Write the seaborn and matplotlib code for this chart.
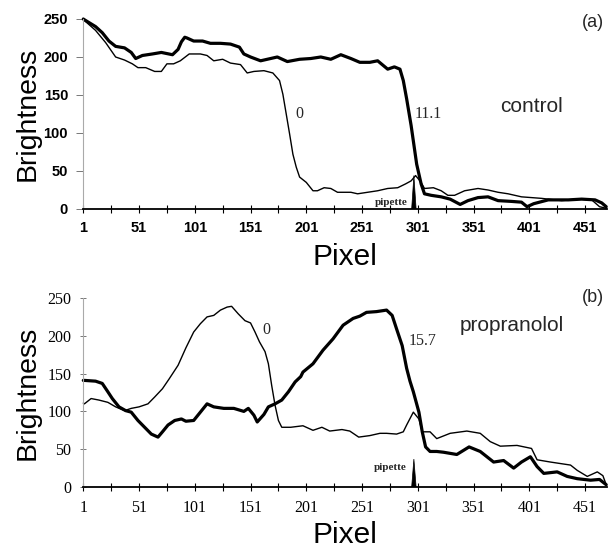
import pandas as pd
import seaborn as sns
import matplotlib.pyplot as plt

# Panel (a) : control, profils de luminosite
a_x_0 = [1, 2, 12, 21, 30, 38, 45, 50, 57, 65, 71, 76, 82, 88, 96, 106, 112, 118, 126, 133,
         142, 148, 154, 163, 171, 177, 180, 183, 186, 189, 192, 195, 201, 207, 211, 217, 223,
         229, 241, 247, 256, 265, 274, 283, 290, 295, 299, 303, 307, 315, 322, 328, 334, 343,
         355, 364, 373, 382, 394, 412, 430, 445, 457, 464, 470]
a_y_0 = [250, 248, 235, 219, 200, 196, 191, 186, 186, 181, 181, 191, 191, 195, 204, 204, 202,
         195, 197, 192, 190, 179, 181, 182, 179, 169, 151, 125, 99, 72, 55, 42, 35, 24, 24, 28,
         27, 22, 22, 20, 22, 24, 27, 28, 33, 37, 44, 37, 27, 28, 24, 18, 18, 24, 27, 25, 22,
         20, 16, 14, 11, 13, 12, 3, 1]
a_x_11 = [1, 2, 12, 18, 24, 30, 38, 44, 48, 54, 63, 71, 81, 86, 89, 92, 94, 100, 108, 115,
          124, 133, 141, 145, 151, 160, 166, 175, 184, 195, 205, 214, 223, 232, 241, 249, 258,
          265, 274, 280, 285, 288, 291, 295, 300, 304, 307, 313, 322, 330, 339, 346, 355, 364,
          373, 385, 394, 399, 405, 418, 436, 448, 460, 466, 470]
a_y_11 = [250, 249, 240, 232, 221, 214, 212, 206, 198, 202, 204, 206, 203, 210, 220, 226, 225,
          221, 221, 218, 218, 217, 213, 204, 200, 195, 197, 200, 194, 197, 198, 200, 197, 203,
          198, 193, 193, 195, 184, 187, 184, 169, 145, 110, 59, 33, 20, 18, 16, 13, 6, 11, 15,
          16, 11, 10, 9, 3, 7, 12, 12, 13, 12, 8, 3]

# Panel (b) : propranolol
b_x_0 = [1, 2, 8, 15, 23, 30, 38, 44, 51, 59, 65, 72, 78, 86, 93, 100, 106, 112, 118, 124,
         130, 134, 140, 146, 151, 155, 159, 164, 167, 170, 173, 176, 179, 187, 198, 207, 215,
         222, 233, 240, 248, 258, 267, 273, 282, 288, 291, 297, 302, 305, 312, 318, 330, 345,
         357, 366, 375, 390, 403, 408, 420, 438, 444, 453, 462, 467, 470]
b_y_0 = [111, 110, 117, 115, 112, 106, 101, 104, 106, 110, 119, 130, 143, 161, 184, 205, 216,
         225, 227, 234, 238, 239, 229, 220, 217, 205, 192, 179, 163, 134, 108, 88, 79, 79, 81,
         75, 79, 74, 76, 74, 66, 68, 71, 71, 70, 73, 82, 99, 90, 73, 73, 64, 71, 74, 71, 60,
         54, 55, 51, 36, 33, 29, 22, 14, 20, 15, 3]
b_x_15 = [1, 2, 12, 18, 23, 27, 33, 39, 44, 50, 56, 62, 68, 72, 77, 83, 89, 93, 100, 106, 112,
          118, 127, 136, 145, 149, 154, 157, 163, 167, 173, 179, 185, 191, 196, 198, 207, 216,
          225, 234, 243, 249, 255, 264, 273, 278, 282, 287, 291, 294, 297, 302, 305, 308, 312,
          318, 324, 336, 347, 357, 363, 369, 378, 387, 394, 402, 408, 414, 426, 435, 444, 456,
          464, 470]
b_y_15 = [141, 141, 140, 137, 126, 117, 106, 101, 99, 88, 79, 70, 66, 73, 82, 88, 90, 87, 88,
          99, 110, 106, 104, 104, 100, 104, 95, 86, 96, 106, 110, 115, 126, 139, 146, 152, 163,
          181, 196, 214, 223, 226, 231, 232, 234, 227, 209, 187, 157, 140, 126, 99, 73, 53, 47,
          47, 46, 43, 53, 47, 40, 33, 35, 25, 33, 40, 27, 18, 20, 14, 11, 9, 10, 3]

# Pipette (pic)
pipette_x = [295.5, 297.5, 299.5]
pipette_a = [0, 44, 0]
pipette_b = [0, 37, 0]

x_labels = [1, 51, 101, 151, 201, 251, 301, 351, 401, 451]
x_minor = [26, 76, 126, 176, 226, 276, 326, 376, 426]
y_ticks = [0, 50, 100, 150, 200, 250]

sns.set_theme(style='white')
plt.rcParams['font.family'] = ['Liberation Sans', 'DejaVu Sans']

fig = plt.figure(figsize=(6.16, 5.51), dpi=100)
W, H = 616, 551
ax_a = fig.add_axes([83.3 / W, 1 - 209 / H, 523.7 / W, 190 / H])
ax_b = fig.add_axes([83.3 / W, 1 - 487 / H, 523.7 / W, 189 / H])

panels = [
    (ax_a, a_x_0, a_y_0, a_x_11, a_y_11, pipette_a, 'Liberation Sans', 'bold', 10.5, 'out'),
    (ax_b, b_x_0, b_y_0, b_x_15, b_y_15, pipette_b, 'Liberation Serif', 'normal', 11.5, 'inout'),
]

for ax, x0, y0, x1, y1, pip, tfont, tweight, tsize, ydir in panels:
    sns.lineplot(x=x0, y=y0, ax=ax, color='black', linewidth=1.0, clip_on=False)
    sns.lineplot(x=x1, y=y1, ax=ax, color='black', linewidth=2.3, clip_on=False)
    ax.fill(pipette_x, pip, color='black', lw=0.5)

    ax.set_xlim(1, 470.7)
    ax.set_ylim(0, 250)
    ax.set_xticks(x_labels)
    ax.set_xticks(x_minor, minor=True)
    ax.set_yticks(y_ticks)
    ax.tick_params(axis='x', which='both', direction='inout', length=6, width=0.8,
                   color='black', bottom=True, pad=6)
    ax.tick_params(axis='y', direction=ydir, length=5, width=0.7, color='#777777',
                   left=True, pad=6)
    for lab in ax.get_xticklabels() + ax.get_yticklabels():
        lab.set_fontfamily(tfont)
        lab.set_fontweight(tweight)
        lab.set_fontsize(tsize)
        lab.set_color('black')

    for s in ['top', 'right']:
        ax.spines[s].set_visible(False)
    ax.spines['bottom'].set_color('black')
    ax.spines['bottom'].set_linewidth(1.3)
    ax.spines['left'].set_color('#aaaaaa')
    ax.spines['left'].set_linewidth(0.8)

    ax.set_ylabel('Brightness', fontsize=20.5, va='center', color='black')
    ax.yaxis.set_label_coords(-0.107, 0.5)
    ax.set_xlabel('Pixel', fontsize=21.5, va='center', color='black')
    ax.xaxis.set_label_coords(0.5, -0.255)

# Annotations panel (a)
ax_a.text(195, 125, '0', fontfamily='Liberation Serif', fontsize=11.5, ha='center', va='center')
ax_a.text(310, 125, '11.1', fontfamily='Liberation Serif', fontsize=11.5, ha='center', va='center')
ax_a.text(375, 135, 'control', fontsize=15, ha='left', va='center')
ax_a.text(448, 246, '(a)', fontsize=13, ha='left', va='center')
ax_a.text(277, 3, 'pipette', fontfamily='Liberation Serif', fontweight='bold', fontsize=8,
          ha='center', va='bottom')

# Annotations panel (b)
ax_b.text(165, 208, '0', fontfamily='Liberation Serif', fontsize=11.5, ha='center', va='center')
ax_b.text(305, 193, '15.7', fontfamily='Liberation Serif', fontsize=11.5, ha='center', va='center')
ax_b.text(339, 214, 'propranolol', fontsize=15, ha='left', va='center')
ax_b.text(448, 250, '(b)', fontsize=13, ha='left', va='center')
ax_b.text(276, 26, 'pipette', fontfamily='Liberation Serif', fontweight='bold', fontsize=8,
          ha='center', va='center')

plt.savefig('out.png', dpi=100)
